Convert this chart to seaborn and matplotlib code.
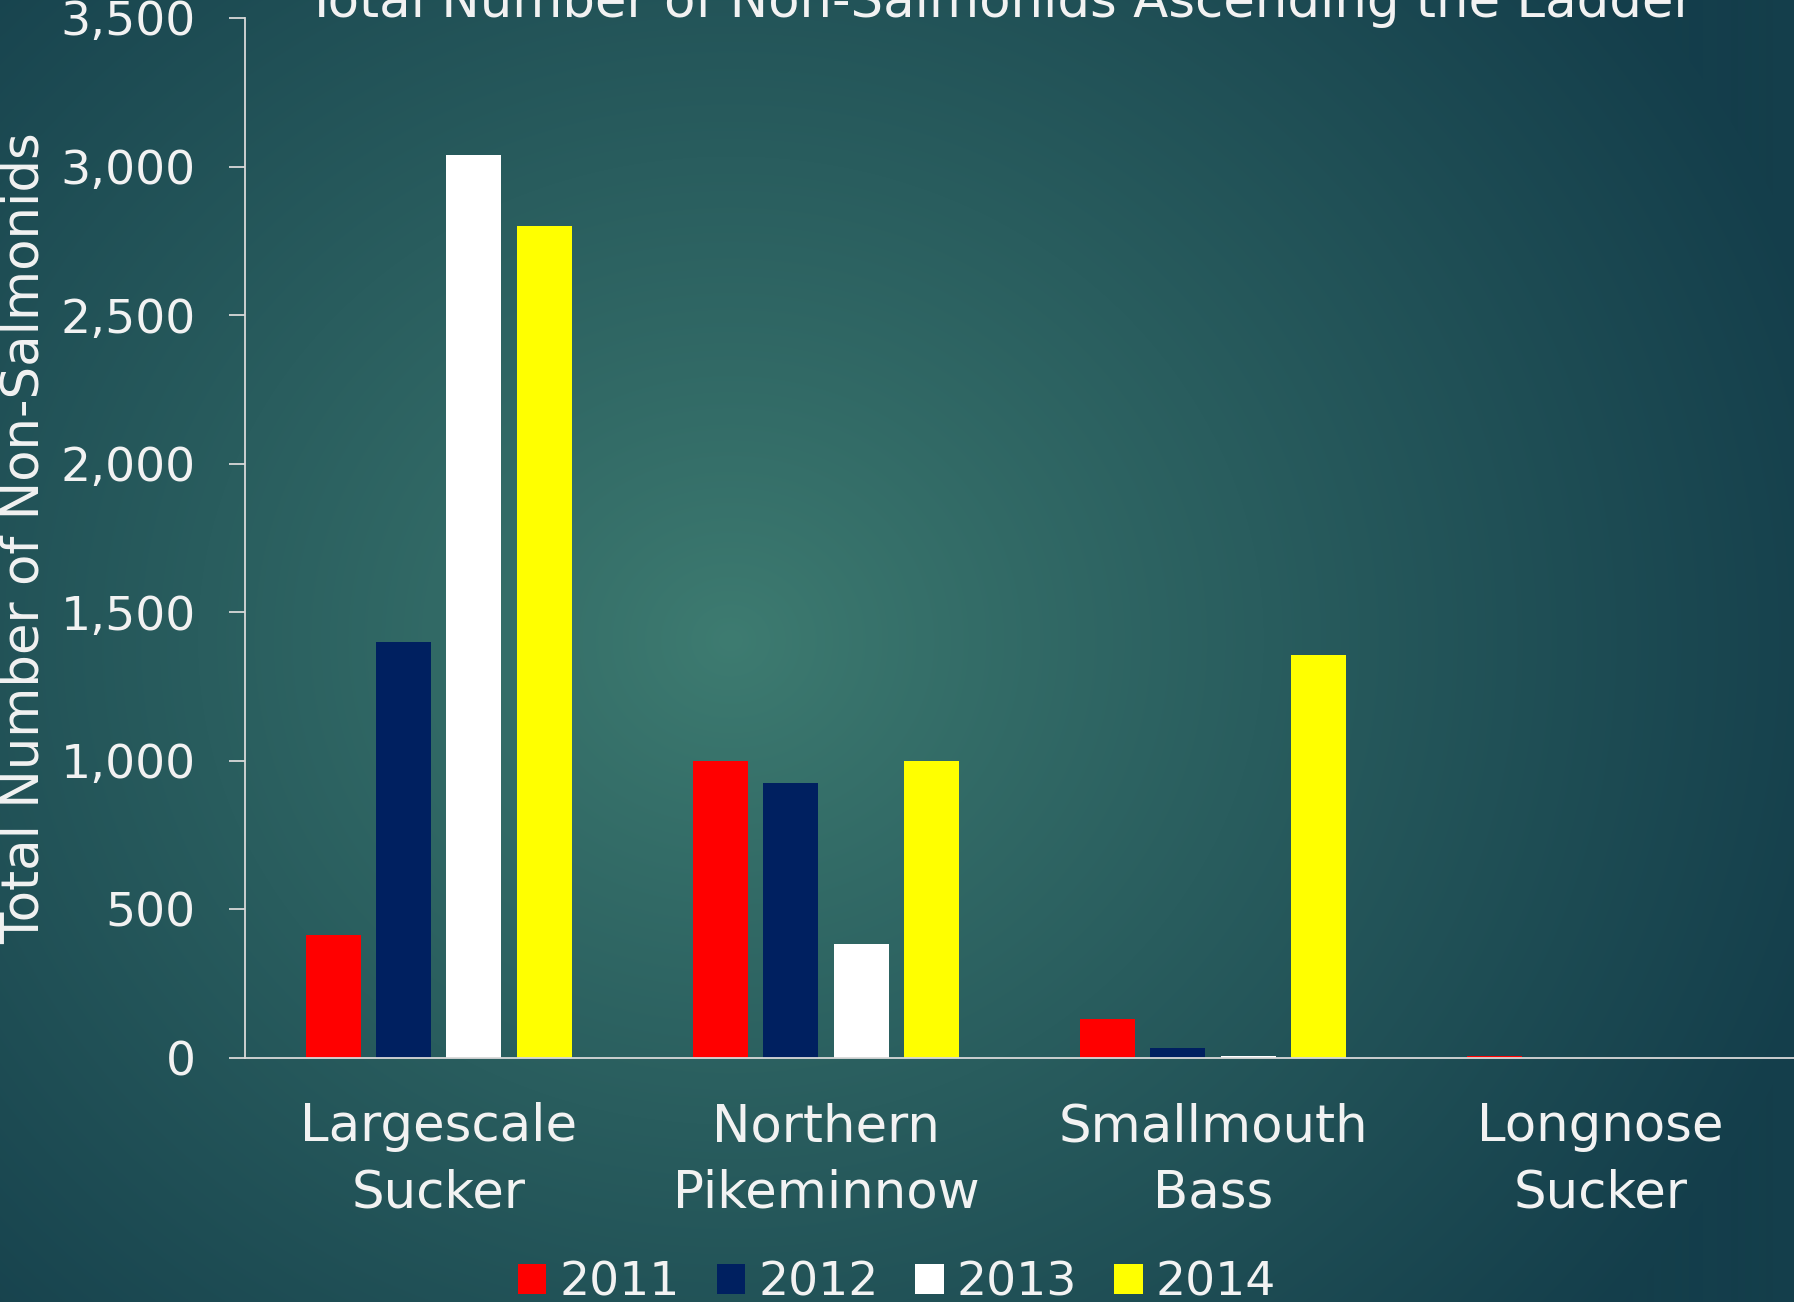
import numpy as np
import pandas as pd
import matplotlib.pyplot as plt
import seaborn as sns

# Data
species = ["Largescale\nSucker", "Northern\nPikeminnow", "Smallmouth\nBass", "Longnose\nSucker"]
years = ["2011", "2012", "2013", "2014"]
counts_2011 = [415, 1000, 132, 6]
counts_2012 = [1400, 925, 32, 0]
counts_2013 = [3040, 385, 6, 0]
counts_2014 = [2800, 1000, 1355, 0]
year_colors = ["#FF0000", "#002060", "#FFFFFF", "#FFFF00"]
y_ticks = [0, 500, 1000, 1500, 2000, 2500, 3000, 3500]

TEXT = "#F2F2F2"
EDGE_BG = np.array([0x14, 0x3E, 0x4B]) / 255
CENTER_BG = np.array([0x3E, 0x7C, 0x71]) / 255


def main():
    sns.set_style("white")
    plt.rcParams["font.family"] = ["DejaVu Sans"]

    df = pd.DataFrame({
        "species": species * 4,
        "year": [y for y in years for _ in species],
        "count": counts_2011 + counts_2012 + counts_2013 + counts_2014,
    })

    W, H = 1794, 1302
    fig = plt.figure(figsize=(W / 100, H / 100), dpi=100)

    # radial gradient background
    bg = fig.add_axes([0, 0, 1, 1], zorder=-1)
    yy, xx = np.mgrid[0:H, 0:W]
    r = np.hypot(xx - 730, (yy - 640) * 1.1)
    t = np.clip(r / 1150, 0, 1) ** 0.9
    img = CENTER_BG[None, None, :] * (1 - t[..., None]) + EDGE_BG[None, None, :] * t[..., None]
    bg.imshow(img, aspect="auto", extent=(0, 1, 0, 1))
    bg.axis("off")

    ax = fig.add_axes([245 / W, 1 - 1058 / H, 1 - 245 / W, (1058 - 18) / H])
    ax.set_facecolor("none")

    sns.barplot(data=df, x="species", y="count", hue="year", hue_order=years,
                palette=year_colors, width=0.727, gap=0.22, linewidth=0,
                saturation=1, ax=ax, errorbar=None)

    ax.set_xlim(-0.5, 3.5)
    ax.set_ylim(0, 3500)
    ax.set_yticks(y_ticks)
    ax.set_yticklabels([f"{v:,}" for v in y_ticks])
    ax.set_xlabel("")
    ax.set_ylabel("")

    for side in ["top", "right"]:
        ax.spines[side].set_visible(False)
    for side in ["left", "bottom"]:
        ax.spines[side].set_color("#D9D9D9")
        ax.spines[side].set_linewidth(1.3)

    ax.tick_params(axis="y", direction="out", length=11.5, width=1.3, color="#D9D9D9",
                   pad=24, labelsize=34, labelcolor=TEXT, left=True)
    ax.tick_params(axis="x", length=0, pad=32, labelsize=37, labelcolor=TEXT)
    for lab in ax.get_xticklabels():
        lab.set_linespacing(1.4)

    fig.text(1000 / W, 1 - 17 / H, "Total Number of Non-Salmonids Ascending the Ladder",
             ha="center", va="baseline", fontsize=37, color=TEXT)
    fig.text(25 / W, 1 - 538 / H, "Total Number of Non-Salmonids", rotation=90,
             ha="center", va="center", fontsize=37, color=TEXT)

    handles, labels = ax.get_legend_handles_labels()
    ax.get_legend().remove()
    fig.legend(handles, labels, loc="center", bbox_to_anchor=(0.5, 1 - 1283 / H),
               ncol=4, frameon=False, fontsize=34, labelcolor=TEXT,
               handlelength=0.6, handleheight=0.62, handletextpad=0.28,
               columnspacing=0.78, borderpad=0)

    fig.savefig("out.png", dpi=100)


if __name__ == "__main__":
    main()
